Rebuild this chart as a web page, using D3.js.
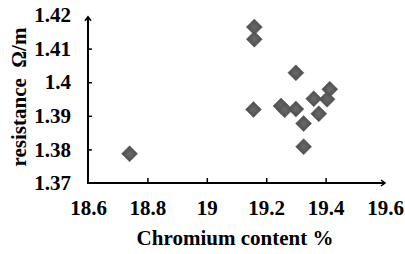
<!DOCTYPE html>
<html>
<head>
<meta charset="utf-8">
<script src="https://cdn.jsdelivr.net/npm/d3@7"></script>
<style>
  body { margin: 0; background: #fff; }
</style>
</head>
<body>
<div id="chart"></div>
<script>
// chromium content (%) vs resistance (ohm/m)
var chromium = [18.74, 19.157, 19.16, 19.16, 19.25, 19.262, 19.30, 19.30, 19.326, 19.326, 19.36, 19.377, 19.405, 19.414];
var resistance = [1.3787, 1.3919, 1.4164, 1.4128, 1.3929, 1.3918, 1.3920, 1.4028, 1.3877, 1.3808, 1.3951, 1.3906, 1.3949, 1.3979];
var xTicks = [18.6, 18.8, 19, 19.2, 19.4, 19.6];
var yTicks = [1.37, 1.38, 1.39, 1.4, 1.41, 1.42];

var width = 405, height = 254;
var margin = {top: 15, right: 20, bottom: 71, left: 88};
var font = "'Liberation Serif', 'Times New Roman', Times, 'DejaVu Serif', serif";

var points = chromium.map((d, i) => ({x: d, y: resistance[i]}));

var svg = d3.select("#chart").append("svg")
    .attr("width", width)
    .attr("height", height);

var x = d3.scaleLinear()
    .domain([18.6, 19.6])
    .range([margin.left, width - margin.right]);

var y = d3.scaleLinear()
    .domain([1.37, 1.42])
    .range([height - margin.bottom, margin.top]);

var defs = svg.append("defs");
var grad = defs.append("radialGradient").attr("id", "dia");
grad.append("stop").attr("offset", "0%").attr("stop-color", "#6a6a6a");
grad.append("stop").attr("offset", "100%").attr("stop-color", "#4a4a4a");

// axes
var xAxis = d3.axisBottom(x)
    .tickValues(xTicks)
    .tickFormat(d3.format("~g"))
    .tickSizeInner(-5)
    .tickSizeOuter(0)
    .tickPadding(17);

var yAxis = d3.axisLeft(y)
    .tickValues(yTicks.slice(1, 5))
    .tickFormat(d3.format("~g"))
    .tickSizeInner(-4)
    .tickSizeOuter(0)
    .tickPadding(17);

var gx = svg.append("g")
    .attr("transform", "translate(0," + y(1.37) + ")")
    .call(xAxis);
gx.select(".domain").remove();
gx.selectAll(".tick").filter(d => d === 18.6 || d === 19.6).select("line").remove();

var gy = svg.append("g")
    .attr("transform", "translate(" + x(18.6) + ",0)")
    .call(yAxis);
gy.select(".domain").remove();

// labels for 1.37 and 1.42 (no tick marks)
gy.selectAll(".extra")
    .data([yTicks[0], yTicks[5]])
    .enter().append("text")
    .attr("x", -17)
    .attr("y", d => y(d))
    .attr("dy", "0.32em")
    .attr("text-anchor", "end")
    .text(d3.format("~g"));

svg.selectAll("g").attr("font-family", font);
svg.selectAll(".tick line").attr("stroke", "#000").attr("stroke-width", 1.5);
svg.selectAll("g text")
    .attr("font-family", font)
    .attr("font-weight", "bold")
    .attr("font-size", 21)
    .attr("fill", "#000");

// axis lines with open arrows
svg.append("line")
    .attr("x1", x(18.6)).attr("y1", y(1.37))
    .attr("x2", x(19.6)).attr("y2", y(1.37))
    .attr("stroke", "#000").attr("stroke-width", 2);
svg.append("path")
    .attr("d", "M" + (x(19.6) - 4) + "," + (y(1.37) - 3) + "L" + x(19.6) + "," + y(1.37) + "L" + (x(19.6) - 4) + "," + (y(1.37) + 3))
    .attr("fill", "none").attr("stroke", "#000").attr("stroke-width", 1.5);

svg.append("line")
    .attr("x1", x(18.6)).attr("y1", y(1.37) + 1)
    .attr("x2", x(18.6)).attr("y2", y(1.4195))
    .attr("stroke", "#000").attr("stroke-width", 2);
svg.append("path")
    .attr("d", "M" + (x(18.6) - 3) + "," + (y(1.4195) + 4) + "L" + x(18.6) + "," + y(1.4195) + "L" + (x(18.6) + 3) + "," + (y(1.4195) + 4))
    .attr("fill", "none").attr("stroke", "#000").attr("stroke-width", 1.5);

// points as diamonds
var s = 8;
svg.append("g").selectAll("path")
    .data(points)
    .enter().append("path")
    .attr("d", d => {
        var cx = x(d.x), cy = y(d.y);
        return "M" + cx + "," + (cy - s) + "L" + (cx + s) + "," + cy + "L" + cx + "," + (cy + s) + "L" + (cx - s) + "," + cy + "Z";
    })
    .attr("fill", "url(#dia)")
    .attr("stroke", "#666")
    .attr("stroke-width", 0.6);

// axis titles
svg.append("text")
    .attr("x", 235)
    .attr("y", 245)
    .attr("text-anchor", "middle")
    .attr("font-family", font)
    .attr("font-weight", "bold")
    .attr("font-size", 21)
    .text("Chromium content %");

svg.append("text")
    .attr("transform", "translate(26,97) rotate(-90)")
    .attr("text-anchor", "middle")
    .attr("font-family", font)
    .attr("font-weight", "bold")
    .attr("font-size", 21)
    .style("white-space", "pre")
    .text("resistance  \u03A9/m");
</script>
</body>
</html>
